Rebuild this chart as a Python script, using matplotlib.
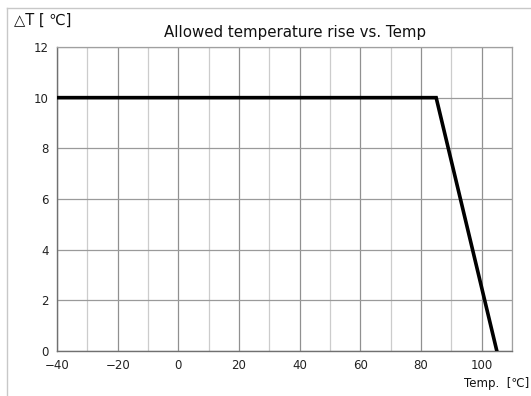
import matplotlib.pyplot as plt
from matplotlib.lines import Line2D

# derating curve: allowed temperature rise vs ambient temperature
temp = [-40, 85, 105]
delta_t = [10, 10, 0]

x_major = list(range(-40, 101, 20))
x_minor = list(range(-30, 111, 20))
y_major = list(range(0, 13, 2))

plt.rcParams['font.family'] = ['DejaVu Sans']

fig = plt.figure(figsize=(5.31, 3.96), dpi=100)
ax = fig.add_axes([57 / 531, 1 - 351 / 396, 455 / 531, 304 / 396])

ax.plot(temp, delta_t, color="black", linewidth=2.6, solid_joinstyle="miter", zorder=3)

ax.set_xlim(-40, 110)
ax.set_ylim(0, 12)
ax.set_xticks(x_major)
ax.set_xticks(x_minor, minor=True)
ax.set_yticks(y_major)
ax.tick_params(length=0, labelsize=8.5, colors="#222222", pad=6)
ax.tick_params(which="minor", length=0)

ax.grid(which="major", axis="x", color="#909090", linewidth=0.9)
ax.grid(which="minor", axis="x", color="#cccccc", linewidth=0.9)
ax.grid(which="major", axis="y", color="#9a9a9a", linewidth=0.9)

for side in ["top", "right"]:
    ax.spines[side].set_color("#a0a0a0")
    ax.spines[side].set_linewidth(0.9)
for side in ["left", "bottom"]:
    ax.spines[side].set_color("#707070")
    ax.spines[side].set_linewidth(1.0)

fig.text(295 / 531, 1 - 33 / 396, "Allowed temperature rise vs. Temp",
         ha="center", va="center", fontsize=10.8, color="#111111")
fig.text(14 / 531, 1 - 20 / 396, "△T [ ℃]", ha="left", va="center",
         fontsize=10.5, color="#111111")
fig.text(529 / 531, 1 - 383 / 396, "Temp.  [℃]", ha="right", va="center",
         fontsize=8.5, color="#111111")

# thin outer frame along the top and left edges
fig.add_artist(Line2D([7 / 531, 1], [1 - 8 / 396, 1 - 8 / 396],
                      transform=fig.transFigure, color="#c8c8c8", linewidth=1))
fig.add_artist(Line2D([7 / 531, 7 / 531], [0, 1 - 8 / 396],
                      transform=fig.transFigure, color="#c8c8c8", linewidth=1))

fig.savefig("out.png", dpi=100)
